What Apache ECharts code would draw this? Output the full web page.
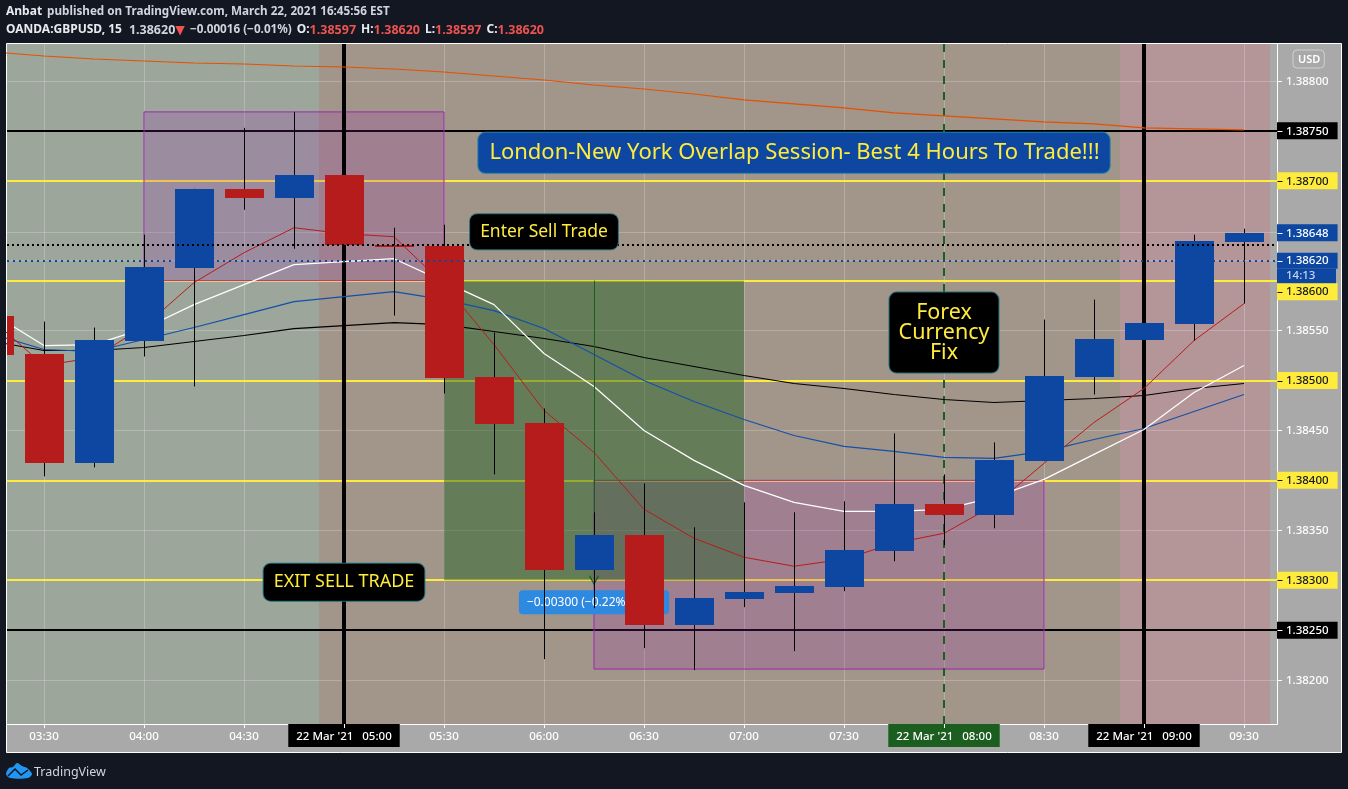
<!DOCTYPE html>
<html lang="en">
<head>
  <meta charset="UTF-8">
  <title>OANDA:GBPUSD, 15</title>
  <script src="https://cdn.jsdelivr.net/npm/echarts@6/dist/echarts.min.js"></script>
  <style>
    html, body { margin: 0; padding: 0; background: #131722; }
    #chart { width: 1348px; height: 789px; }
  </style>
</head>
<body>
<div id="chart"></div>
<script>
  // bars, 15 minutes each. first one is cut by the left edge
  var barTimes = ['03:15', '03:30', '03:45', '04:00', '04:15', '04:30', '04:45', '05:00', '05:15', '05:30', '05:45', '06:00', '06:15', '06:30', '06:45', '07:00', '07:15', '07:30', '07:45', '08:00', '08:15', '08:30', '08:45', '09:00', '09:15', '09:30'];
  var opens  = [1.38565, 1.38527, 1.38417, 1.38540, 1.38613, 1.38692, 1.38683, 1.38706, 1.38636, 1.38635, 1.38504, 1.38457, 1.38310, 1.38345, 1.38255, 1.38281, 1.38287, 1.38293, 1.38329, 1.38376, 1.38365, 1.38419, 1.38504, 1.38541, 1.38557, 1.38639];
  var closes = [1.38526, 1.38417, 1.38541, 1.38614, 1.38692, 1.38683, 1.38706, 1.38636, 1.38634, 1.38503, 1.38456, 1.38310, 1.38345, 1.38255, 1.38282, 1.38288, 1.38294, 1.38330, 1.38376, 1.38365, 1.38420, 1.38505, 1.38542, 1.38558, 1.38640, 1.38648];
  var lows   = [1.38520, 1.38404, 1.38413, 1.38524, 1.38494, 1.38671, 1.38632, 1.38636, 1.38565, 1.38487, 1.38406, 1.38221, 1.38272, 1.38232, 1.38210, 1.38273, 1.38229, 1.38289, 1.38319, 1.38335, 1.38352, 1.38419, 1.38486, 1.38541, 1.38540, 1.38577];
  var highs  = [1.38570, 1.38559, 1.38553, 1.38646, 1.38692, 1.38753, 1.38769, 1.38706, 1.38653, 1.38656, 1.38548, 1.38472, 1.38368, 1.38397, 1.38353, 1.38378, 1.38368, 1.38379, 1.38447, 1.38406, 1.38438, 1.38561, 1.38581, 1.38558, 1.38646, 1.38652];

  // moving averages
  var maOrange = [1.38829, 1.38825, 1.38822, 1.38820, 1.38818, 1.38817, 1.38815, 1.38814, 1.38812, 1.38809, 1.38805, 1.38801, 1.38796, 1.38792, 1.38787, 1.38781, 1.38777, 1.38773, 1.38768, 1.38765, 1.38762, 1.38759, 1.38757, 1.38753, 1.38752, 1.38751];
  var maRed    = [1.38559, 1.38515, 1.38523, 1.38554, 1.38598, 1.38628, 1.38653, 1.38647, 1.38644, 1.38596, 1.38536, 1.38470, 1.38428, 1.38371, 1.38342, 1.38323, 1.38314, 1.38321, 1.38337, 1.38347, 1.38375, 1.38417, 1.38458, 1.38492, 1.38540, 1.38577];
  var maWhite  = [1.38566, 1.38535, 1.38536, 1.38552, 1.38576, 1.38596, 1.38616, 1.38619, 1.38622, 1.38599, 1.38576, 1.38527, 1.38494, 1.38450, 1.38420, 1.38395, 1.38378, 1.38369, 1.38369, 1.38371, 1.38383, 1.38401, 1.38426, 1.38451, 1.38488, 1.38515];
  var maBlue   = [1.38546, 1.38531, 1.38529, 1.38541, 1.38553, 1.38566, 1.38579, 1.38584, 1.38589, 1.38581, 1.38570, 1.38552, 1.38526, 1.38500, 1.38479, 1.38461, 1.38445, 1.38434, 1.38429, 1.38423, 1.38422, 1.38429, 1.38441, 1.38452, 1.38469, 1.38486];
  var maBlack  = [1.38539, 1.38530, 1.38530, 1.38533, 1.38539, 1.38545, 1.38552, 1.38555, 1.38558, 1.38556, 1.38549, 1.38542, 1.38534, 1.38523, 1.38514, 1.38505, 1.38497, 1.38492, 1.38486, 1.38481, 1.38478, 1.38480, 1.38482, 1.38485, 1.38492, 1.38497];

  // axis labels
  var timeTicks = ['03:30', '04:00', '04:30', '05:00', '05:30', '06:00', '06:30', '07:00', '07:30', '08:00', '08:30', '09:00', '09:30'];
  var priceTicks = [1.388, 1.3875, 1.387, 1.38648, 1.3862, 1.386, 1.3855, 1.385, 1.3845, 1.384, 1.3835, 1.383, 1.3825, 1.382];
  var yellowLevels = [1.387, 1.386, 1.385, 1.384, 1.383];
  var blackLevels = [1.3875, 1.3825];
  var blueLevels = [1.38648, 1.3862];
  var dottedBlack = 1.38636;
  var dottedBlue = 1.3862;
  var blackTimes = ['05:00', '09:00'];
  var greenTime = '08:00';

  // session colours, times given as minutes from midnight
  var xMin = 198.9, xMax = 579.9, yMin = 1.38156, yMax = 1.38837;
  var sessions = [
    [198.9, 292.5, '#9ca69b'],
    [292.5, 532.8, '#a29589'],
    [532.8, 577.8, '#b49698'],
    [577.8, 579.9, '#a9a9a9']
  ];

  var FONT = '"Noto Sans", "DejaVu Sans", sans-serif';
  var YELLOW = '#ffeb3b';

  function toMinutes(t) {
    var p = t.split(':');
    return +p[0] * 60 + +p[1];
  }
  function toTime(m) {
    var h = Math.floor(m / 60), mm = m % 60;
    return (h < 10 ? '0' : '') + h + ':' + (mm < 10 ? '0' : '') + mm;
  }
  function maSeries(name, values, color, width) {
    return {
      name: name,
      type: 'line',
      z: 4,
      silent: true,
      showSymbol: false,
      symbol: 'none',
      lineStyle: { color: color, width: width },
      data: values.map(function (v, i) { return [toMinutes(barTimes[i]), v]; })
    };
  }
  function rectArea(t1, p1, t2, p2, style) {
    return [{ coord: [toMinutes(t1), p1], itemStyle: style }, { coord: [toMinutes(t2), p2] }];
  }
  function priceLine(v, style) {
    return [{ coord: [xMin, v], lineStyle: style }, { coord: [xMax, v] }];
  }

  var candles = barTimes.map(function (t, i) {
    return [toMinutes(t), opens[i], closes[i], lows[i], highs[i]];
  });

  function renderCandle(params, api) {
    var x = api.value(0), o = api.value(1), c = api.value(2), l = api.value(3), h = api.value(4);
    var w = Math.round(api.size([15, 0])[0] * 0.78);
    var top = api.coord([x, Math.max(o, c)]);
    var bottom = api.coord([x, Math.min(o, c)]);
    var hi = api.coord([x, h]);
    var lo = api.coord([x, l]);
    var cx = Math.round(hi[0]);
    var y1 = Math.round(top[1]);
    return {
      type: 'group',
      children: [
        { type: 'line', shape: { x1: cx + 0.5, y1: hi[1], x2: cx + 0.5, y2: lo[1] }, style: { stroke: '#000', lineWidth: 1 } },
        { type: 'rect', shape: { x: cx - 19, y: y1, width: w, height: Math.max(Math.round(bottom[1]) - y1, 2) },
          style: { fill: c >= o ? '#0d47a1' : '#b71c1c' } }
      ]
    };
  }

  // short ticks on the coloured tags, the axis ticks are hidden under the label background
  function renderPriceTick(params, api) {
    var v = api.value(1);
    var p = api.coord([api.value(0), v]);
    var y = Math.round(p[1]) + 0.5 + (v === 1.386 ? 11 : 0);
    return {
      type: 'line',
      shape: { x1: p[0] + 0.5, y1: y, x2: p[0] + 5.5, y2: y },
      style: { stroke: yellowLevels.indexOf(v) >= 0 ? '#131722' : '#fff', lineWidth: 1 }
    };
  }
  function renderTimeTick(params, api) {
    var p = api.coord([api.value(0), api.value(1)]);
    var x = Math.round(p[0]) + 0.5;
    return { type: 'line', shape: { x1: x, y1: p[1], x2: x, y2: p[1] + 4 }, style: { stroke: '#fff', lineWidth: 1 } };
  }

  // y axis label, some levels have a coloured tag
  function tag(color, bg, h) {
    return { color: color, backgroundColor: bg, fontFamily: FONT, fontSize: 11.5, fontWeight: 500, padding: [1, 9, 0, 9], height: h - 1, lineHeight: h };
  }
  var priceRich = {
    p: tag('#fff', 'transparent', 17),
    k: tag('#fff', '#000', 17),
    y: tag('#131722', YELLOW, 17),
    b: tag('#fff', '#0d47a1', 17),
    b2: tag('#fff', '#0d47a1', 16),
    c: { color: '#c9d6ee', backgroundColor: '#0d47a1', fontFamily: FONT, fontSize: 11.5, fontWeight: 500, padding: [0, 9, 0, 9], width: 41, height: 15, lineHeight: 15 },
    gap: { height: 22, lineHeight: 22 },
    gap2: { height: 15, lineHeight: 15 }
  };
  function priceLabel(v) {
    var s = v.toFixed(5);
    if (s === '1.38620') return '{gap2| }\n{b2|' + s + '}\n{c|14:13}';
    if (s === '1.38600') return '{gap| }\n{y|' + s + '}';
    if (s === '1.38648') return '{b|' + s + '}';
    if (yellowLevels.indexOf(v) >= 0) return '{y|' + s + '}';
    if (blackLevels.indexOf(v) >= 0) return '{k|' + s + '}';
    return '{p|' + s + '}';
  }

  function timeTag(bg) {
    return { color: '#fff', backgroundColor: bg, fontFamily: FONT, fontSize: 11.5, fontWeight: 500, padding: [3, 8, 0, 8], height: 20, lineHeight: 23 };
  }
  var timeRich = {
    t: timeTag('transparent'),
    k: timeTag('#000'),
    g: timeTag('#1b5e20')
  };
  function timeLabel(m) {
    var t = toTime(m);
    if (blackTimes.indexOf(t) >= 0) return "{k|22 Mar '21   " + t + '}';
    if (t === greenTime) return "{g|22 Mar '21   " + t + '}';
    return '{t|' + t + '}';
  }

  function callout(text, t, price, bg, border, fontSize, lineHeight, padding) {
    return {
      name: text,
      coord: [toMinutes(t), price],
      symbolSize: 0,
      label: {
        show: true,
        position: 'inside',
        align: 'center',
        verticalAlign: 'middle',
        formatter: text,
        color: YELLOW,
        fontFamily: FONT,
        fontSize: fontSize,
        lineHeight: lineHeight,
        backgroundColor: bg,
        borderColor: border,
        borderWidth: 1,
        borderRadius: 7,
        padding: padding
      }
    };
  }

  var chart = echarts.init(document.getElementById('chart'));
  chart.setOption({
    animation: false,
    backgroundColor: '#131722',
    title: {
      left: 6, top: 3, padding: 0,
      text: '{b|Anbat} {m|published on TradingView.com, March 22, 2021 16:45:56 EST}\n' +
        '{b|OANDA:GBPUSD, 15} {v|1.38620}{r|▼} {n|−0.00016 (−0.01%)} {b|O:}{r|1.38597} {b|H:}{r|1.38620} {b|L:}{r|1.38597} {b|C:}{r|1.38620}',
      textStyle: {
        rich: {
          b: { color: '#e8eaf0', fontFamily: FONT, fontSize: 12, fontWeight: 700, lineHeight: 17 },
          m: { color: '#d1d4dc', fontFamily: FONT, fontSize: 11.7, lineHeight: 17 },
          n: { color: '#d1d4dc', fontFamily: FONT, fontSize: 11.7, lineHeight: 17 },
          v: { color: '#d1d4dc', fontFamily: FONT, fontSize: 12.5, lineHeight: 17, padding: [0, 0, 0, 2] },
          r: { color: '#ef5350', fontFamily: FONT, fontSize: 12.5, lineHeight: 17 }
        }
      }
    },
    grid: { left: 7, right: 71, top: 44, bottom: 65 },
    xAxis: {
      type: 'value',
      min: xMin,
      max: xMax,
      axisLine: { show: true, onZero: false, lineStyle: { color: '#fff', width: 1 } },
      axisTick: { show: true, length: 4, lineStyle: { color: '#fff' }, customValues: timeTicks.map(toMinutes) },
      axisLabel: { show: true, margin: 0, customValues: timeTicks.map(toMinutes), formatter: timeLabel, rich: timeRich },
      splitLine: { show: true, lineStyle: { color: 'rgba(255,255,255,0.22)', width: 1 } }
    },
    yAxis: {
      type: 'value',
      position: 'right',
      scale: true,
      min: yMin,
      max: yMax,
      axisLine: { show: true, onZero: false, lineStyle: { color: '#fff', width: 1 } },
      axisTick: { show: true, length: 5, lineStyle: { color: '#fff' }, customValues: priceTicks },
      axisLabel: { show: true, margin: 0, customValues: priceTicks, formatter: priceLabel, rich: priceRich },
      splitLine: { show: true, lineStyle: { color: 'rgba(255,255,255,0.22)', width: 1 } }
    },
    graphic: [
      { type: 'rect', z: -10, silent: true, shape: { x: 6.5, y: 43.5, width: 1335, height: 709 },
        style: { fill: '#a9a9a9', stroke: '#fff', lineWidth: 1 } },
      { type: 'text', z: 10, silent: true, x: 1293, y: 50,
        style: { text: 'USD', fill: '#fff', font: '600 11px ' + FONT, padding: [4, 4, 3, 5], borderColor: '#d0d0d0', borderWidth: 1, borderRadius: 4 } },
      { type: 'polygon', z: 10, silent: true,
        shape: { smooth: 0.3, points: [[6, 774], [9, 768], [13, 767], [17, 763], [22, 766], [27, 768], [32, 774], [28, 778], [10, 778]] },
        style: { fill: '#2196f3' } },
      { type: 'polyline', z: 11, silent: true, shape: { points: [[8, 776], [15, 769], [21, 775], [28, 770]] },
        style: { stroke: '#131722', lineWidth: 1.5, fill: 'none' } },
      { type: 'text', z: 10, silent: true, x: 34, y: 766,
        style: { text: 'TradingView', fill: '#d1d4dc', font: '12.5px ' + FONT } }
    ],
    series: [
      // session backgrounds, under the grid lines
      {
        name: 'sessions', type: 'line', data: [], silent: true,
        markArea: {
          z: -2, silent: true,
          data: sessions.map(function (s) {
            return [{ xAxis: s[0], itemStyle: { color: s[2], opacity: 1 } }, { xAxis: s[1] }];
          })
        }
      },
      // price levels, drawn under the boxes
      {
        name: 'levels', type: 'line', data: [], silent: true,
        markLine: {
          z: 1, silent: true, symbol: 'none', label: { show: false }, animation: false,
          data: yellowLevels.map(function (v) {
            return priceLine(v, { color: YELLOW, width: 2, type: 'solid' });
          }).concat(blackLevels.map(function (v) {
            return priceLine(v, { color: '#000', width: 2, type: 'solid' });
          }))
        }
      },
      // purple boxes
      {
        name: 'boxes', type: 'line', data: [], silent: true,
        markArea: {
          z: 2, silent: true,
          data: [
            rectArea('04:00', 1.38769, '05:30', 1.386, { color: 'rgba(156,39,176,0.2)', borderColor: '#9c27b0', borderWidth: 1 }),
            rectArea('06:15', 1.384, '08:30', 1.38211, { color: 'rgba(156,39,176,0.2)', borderColor: '#9c27b0', borderWidth: 1 })
          ]
        }
      },
      // green range box
      {
        name: 'range', type: 'line', data: [], silent: true,
        markArea: {
          z: 3, silent: true,
          data: [rectArea('05:30', 1.386, '07:00', 1.383, { color: 'rgba(27,94,32,0.45)' })]
        }
      },
      // vertical lines
      {
        name: 'verticals', type: 'line', data: [], silent: true,
        markLine: {
          z: 3, silent: true, symbol: 'none', label: { show: false }, animation: false,
          data: blackTimes.map(function (t) {
            return { xAxis: toMinutes(t), lineStyle: { color: '#000', width: 4, type: 'solid' } };
          }).concat([
            { xAxis: toMinutes(greenTime), lineStyle: { color: '#1b5e20', width: 2, type: [8, 8] } }
          ])
        }
      },
      maSeries('orange', maOrange, '#e65100', 1.1),
      maSeries('black', maBlack, '#000', 1.1),
      maSeries('blue', maBlue, '#1250aa', 1.1),
      maSeries('white', maWhite, '#fff', 1.2),
      maSeries('red', maRed, '#b71c1c', 1),
      // measure tool: arrow and change badge
      {
        name: 'measure', type: 'line', data: [], silent: true,
        markLine: {
          z: 5, silent: true, label: { show: false }, animation: false,
          symbol: ['none', 'path://M0,8 L5,0 L10,8 L9,9 L5,2.5 L1,9 Z'],
          symbolSize: 10,
          data: [[
            { coord: [toMinutes('06:15'), 1.386], lineStyle: { color: '#1b5e20', width: 1, type: 'solid' }, itemStyle: { color: '#1b5e20' } },
            { coord: [toMinutes('06:15'), 1.383] }
          ]]
        },
        markPoint: {
          z: 5, silent: true,
          data: [{
            coord: [toMinutes('06:15'), 1.38278],
            symbolSize: 0,
            label: {
              show: true, position: 'inside', align: 'center', verticalAlign: 'middle',
              formatter: '−0.00300 (−0.22%)', color: '#fff', fontFamily: FONT, fontSize: 12,
              backgroundColor: '#2d8ae0', borderRadius: 4, padding: [6, 40, 6, 8]
            }
          }]
        }
      },
      {
        name: 'GBPUSD',
        type: 'custom',
        z: 6,
        silent: true,
        clip: true,
        renderItem: renderCandle,
        encode: { x: 0, y: [1, 2, 3, 4] },
        data: candles
      },
      {
        name: 'priceTicks',
        type: 'custom',
        z: 6,
        silent: true,
        clip: false,
        renderItem: renderPriceTick,
        encode: { x: 0, y: 1 },
        data: yellowLevels.concat(blackLevels, blueLevels).map(function (v) { return [xMax, v]; })
      },
      {
        name: 'timeTicks',
        type: 'custom',
        z: 6,
        silent: true,
        clip: false,
        renderItem: renderTimeTick,
        encode: { x: 0, y: 1 },
        data: blackTimes.concat(greenTime).map(function (t) { return [toMinutes(t), yMin]; })
      },
      // dotted price lines go over the candles
      {
        name: 'dotted', type: 'line', data: [], silent: true,
        markLine: {
          z: 7, silent: true, symbol: 'none', label: { show: false }, animation: false,
          data: [
            priceLine(dottedBlack, { color: '#000', width: 2, type: [2, 3] }),
            priceLine(dottedBlue, { color: '#0d47a1', width: 2, type: [2, 4] })
          ]
        }
      },
      // text notes
      {
        name: 'notes', type: 'line', data: [], silent: true,
        markPoint: {
          z: 8, silent: true,
          data: [
            callout('London-New York Overlap Session- Best 4 Hours To Trade!!!', '07:15', 1.38728, '#0d47a1', '#1d7fa8', 22, 26, [7, 10, 7, 11]),
            callout('Enter Sell Trade', '06:00', 1.38649, '#000', '#1f6f78', 17.5, 20, [7.5, 10, 7.5, 10]),
            callout('EXIT SELL TRADE', '05:00', 1.38298, '#000', '#1f6f78', 18, 20, [8.5, 10, 8.5, 10]),
            callout('Forex\nCurrency\nFix', '08:00', 1.38548, '#000', '#1f6f78', 21.5, 20, [10, 9, 10, 9])
          ]
        }
      }
    ]
  });
</script>
</body>
</html>
